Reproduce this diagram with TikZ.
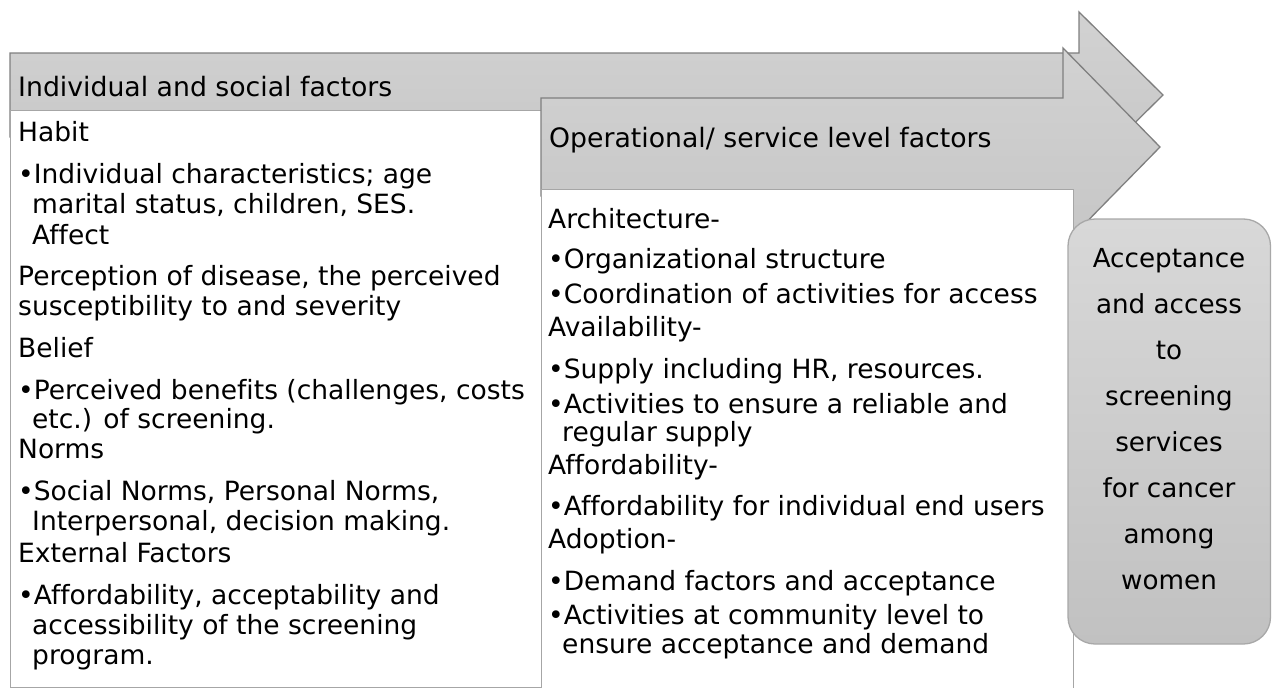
\documentclass[tikz,border=0pt]{standalone}
\usepackage{fontspec}
\setmainfont{DejaVu Sans}[Ligatures={NoCommon}]
\definecolor{arrowline}{HTML}{7F7F7F}
\definecolor{arrowtop}{HTML}{D2D2D2}
\definecolor{arrowbot}{HTML}{C6C6C6}
\definecolor{boxline}{HTML}{A6A6A6}
\definecolor{endtop}{HTML}{D8D8D8}
\definecolor{endbot}{HTML}{C1C1C1}
\definecolor{endline}{HTML}{A8A8A8}
\newcommand{\ind}{\hspace*{14pt}}
\begin{document}
\begin{tikzpicture}[x=1pt,y=-1pt,
  arrowshape/.style={draw=arrowline, line width=1.3pt, line join=miter, top color=arrowtop, bottom color=arrowbot},
  textbox/.style={draw=boxline, fill=white, line width=1.3pt, inner sep=0pt, anchor=north west},
  headtext/.style={anchor=base west, inner sep=0pt, font=\fontsize{26.7}{30}\selectfont},
  bodytext/.style={anchor=base west, inner sep=0pt, align=left, font=\fontsize{26.5}{30}\selectfont},
  endbox/.style={draw=endline, line width=1.3pt, rounded corners=27pt, top color=endtop, bottom color=endbot},
  endtext/.style={anchor=base, inner sep=0pt, align=center, font=\fontsize{26.2}{46}\selectfont}]
\useasboundingbox (0,0) rectangle (1272,688);
% first arrow
\draw[arrowshape] (10,53) -- (1079,53) -- (1079,12) -- (1163,95) -- (1079,178) -- (1079,137) -- (10,137) -- cycle;
\node[headtext] (h1) at (18,96) {Individual and social factors};
% first text box
\node[textbox, minimum width=531pt, minimum height=577pt] (box1) at (10,110) {};
% second arrow
\draw[arrowshape] (541,98) -- (1063,98) -- (1063,48) -- (1160,147) -- (1063,246) -- (1063,196) -- (541,196) -- cycle;
\node[headtext] (h2) at (549,147) {Operational/ service level factors};
% second text box
\node[textbox, minimum width=532pt, minimum height=510pt] (box2) at (541,189) {};
% end box
\draw[endbox] (1068,219) rectangle (1270.5,644);
\node[endtext] (endlabel) at (1169,589) {Acceptance\\and access\\to\\screening\\services\\for cancer\\among\\women};
% texts (anchored at the baseline of the last line)
\node[bodytext] (t1) at (18,664) {Habit\\[12pt]
•Individual characteristics; age\\
\ind marital status, children, SES.\\[1pt]
\ind Affect\\[11pt]
Perception of disease, the perceived\\
susceptibility to and severity\\[12pt]
Belief\\[12pt]
•Perceived benefits (challenges, costs\\[-1pt]
\ind etc.) of screening.\\
Norms\\[12pt]
•Social Norms, Personal Norms,\\
\ind Interpersonal, decision making.\\[2pt]
External Factors\\[12pt]
•Affordability, acceptability and\\
\ind accessibility of the screening\\
\ind program.};
\node[bodytext] (t2) at (548,653) {Architecture-\\[10pt]
•Organizational structure\\[5pt]
•Coordination of activities for access\\[3pt]
Availability-\\[12pt]
•Supply including HR, resources.\\[5pt]
•Activities to ensure a reliable and\\[-2pt]
\ind regular supply\\[3pt]
Affordability-\\[11pt]
•Affordability for individual end users\\[3pt]
Adoption-\\[12pt]
•Demand factors and acceptance\\[4pt]
•Activities at community level to\\[-1pt]
\ind ensure acceptance and demand};
\end{tikzpicture}
\end{document}
